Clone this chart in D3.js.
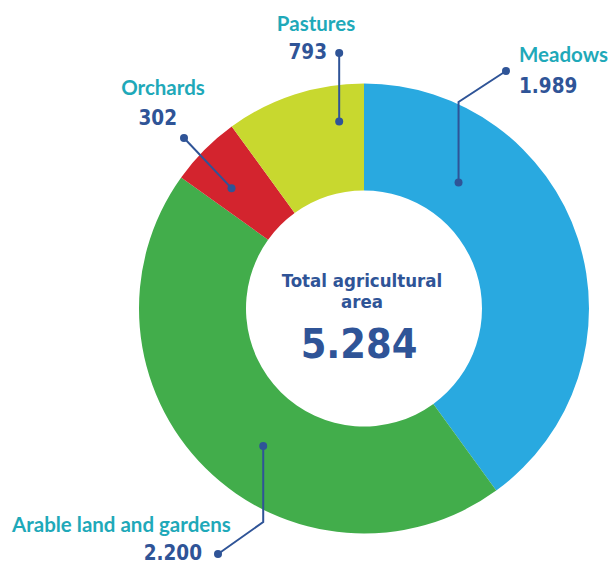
<!DOCTYPE html>
<html>
<head>
<meta charset="utf-8">
<script src="https://cdn.jsdelivr.net/npm/d3@7"></script>
<style>
  body { margin: 0; background: #fff; }
  .name { font-family: Lato, "Open Sans", sans-serif; font-weight: 700; font-size: 20.5px; fill: #1fa9b9; }
  .val { font-family: "DejaVu Sans Condensed", "DejaVu Sans", sans-serif; font-weight: 700; font-size: 20.5px; fill: #2f5497; }
  .center { font-family: "DejaVu Sans Condensed", "DejaVu Sans", sans-serif; font-weight: 700; fill: #2f5497; }
</style>
</head>
<body>
<svg id="chart" width="609" height="564"></svg>
<script>
// data, clockwise from 12 o'clock
const categories = ['Meadows', 'Arable land and gardens', 'Orchards', 'Pastures'];
const areaValues = [1989, 2200, 302, 793];
const valueLabels = ['1.989', '2.200', '302', '793'];
// share of the ring each slice gets in the reference drawing (%)
const drawnShare = [40.0, 44.9, 5.1, 10.0];
const totalLabel = '5.284';
const centerTitle = ['Total agricultural', 'area'];
const colors = ['#29a9e0', '#42ad4b', '#d3242e', '#c8d82f'];

const cx = 364, cy = 308.5;
const outerR = 225, innerR = 118;

// label placement: t = position along slice, f = position across ring
const annot = [
  { t: 0.256, f: 0.37, elbowY: 102, end: [506, 71],
    name: [519, 62, 'start'], value: [519, 93, 'start'] },
  { t: 0.447, f: 0.49, elbowY: 522, end: [218, 554],
    name: [12, 532, 'start'], value: [202, 560, 'end'] },
  { t: 0.36, f: 0.57, elbowY: null, end: [184, 138],
    name: [163, 95, 'middle'], value: [177, 125, 'end'] },
  { t: 0.79, f: 0.66, elbowY: 53, end: null,
    name: [316, 31, 'middle'], value: [327, 59, 'end'] }
];

const svg = d3.select('#chart');
const g = svg.append('g').attr('transform', `translate(${cx},${cy})`);

const pie = d3.pie().sort(null).value((d, i) => drawnShare[i]);
const arcs = pie(categories);
const arc = d3.arc().innerRadius(innerR).outerRadius(outerR);

g.selectAll('path.slice')
  .data(arcs)
  .enter()
  .append('path')
  .attr('class', 'slice')
  .attr('d', arc)
  .attr('fill', (d, i) => colors[i]);

// leader lines
const lineColor = '#2f5497';
arcs.forEach((d, i) => {
  const a = annot[i];
  const ang = d.startAngle + a.t * (d.endAngle - d.startAngle);
  const r = innerR + a.f * (outerR - innerR);
  const ax = cx + r * Math.sin(ang);
  const ay = cy - r * Math.cos(ang);
  const pts = [[ax, ay]];
  if (a.elbowY != null) pts.push([ax, a.elbowY]);
  if (a.end) pts.push(a.end);

  svg.append('path')
    .attr('d', d3.line()(pts))
    .attr('fill', 'none')
    .attr('stroke', lineColor)
    .attr('stroke-width', 2);

  [pts[0], pts[pts.length - 1]].forEach(p => {
    svg.append('circle')
      .attr('cx', p[0]).attr('cy', p[1])
      .attr('r', 4)
      .attr('fill', lineColor);
  });

  svg.append('text')
    .attr('class', 'name')
    .attr('x', a.name[0]).attr('y', a.name[1])
    .attr('text-anchor', a.name[2])
    .text(categories[i]);

  svg.append('text')
    .attr('class', 'val')
    .attr('x', a.value[0]).attr('y', a.value[1])
    .attr('text-anchor', a.value[2])
    .text(valueLabels[i]);
});

// center text
svg.append('text')
  .attr('class', 'center')
  .attr('x', 362).attr('y', 287)
  .attr('text-anchor', 'middle')
  .attr('font-size', 18.5)
  .text(centerTitle[0]);
svg.append('text')
  .attr('class', 'center')
  .attr('x', 362).attr('y', 308)
  .attr('text-anchor', 'middle')
  .attr('font-size', 18.5)
  .text(centerTitle[1]);
svg.append('text')
  .attr('class', 'center')
  .attr('x', 359).attr('y', 358)
  .attr('text-anchor', 'middle')
  .attr('font-size', 41)
  .text(totalLabel);
</script>
</body>
</html>
